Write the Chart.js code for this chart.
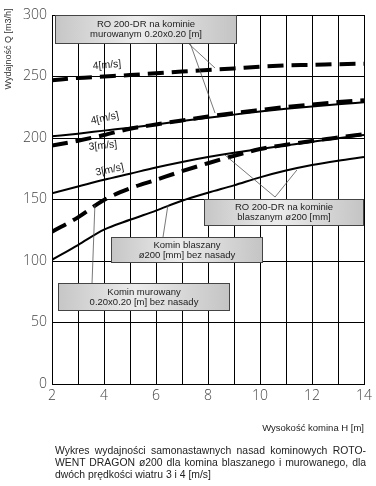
<!DOCTYPE html>
<html><head><meta charset="utf-8">
<script src="https://cdn.jsdelivr.net/npm/chart.js@4/dist/chart.umd.min.js"></script>
<style>
body{margin:0;background:#fff;}
#wrap{position:relative;width:376px;height:486px;overflow:hidden;}
#c{position:absolute;left:0;top:0;}
#ytitle{position:absolute;left:-33px;top:43px;width:82px;text-align:center;font:9px "Liberation Sans",Arial,sans-serif;color:#333;line-height:12px;transform:rotate(-90deg);white-space:nowrap;}
#xtitle{position:absolute;right:12px;top:422px;font:9.5px "Liberation Sans",Arial,sans-serif;color:#222;white-space:nowrap;}
#caption{position:absolute;left:55px;top:445px;width:311px;font:10.4px "Liberation Sans",Arial,sans-serif;color:#222;line-height:12px;}
#caption div{white-space:nowrap;}
#caption span{display:inline-block;}
</style></head><body>
<div id="wrap">
<canvas id="c" width="376" height="486"></canvas>
<div id="ytitle">Wydajność Q [m3/h]</div>
<div id="xtitle">Wysokość komina H [m]</div>
<div id="caption">
<div class="j"><span>Wykres wydajności samonastawnych nasad kominowych ROTO-</span></div>
<div class="j"><span>WENT DRAGON ø200 dla komina blaszanego i murowanego, dla</span></div>
<div><span>dwóch prędkości wiatru 3 i 4 [m/s]</span></div>
</div>
</div>
<script>
// Heights H [m]
const heights = [2,3,4,5,6,7,8,9,10,11,12,13,14];
// Series values Q [m3/h]
const dashTop4 = [247,248.8,250,251.2,252.6,254,255.3,256.6,258,259,259.4,260,260.4];
const solid4   = [201.4,203.5,206,208.4,211,213.8,216.5,219,221.5,223.7,225.7,227.5,229];
const dash4    = [193.8,197.8,202.4,207.5,211,214.3,217.5,220.3,222.8,225.2,227.3,229.2,230.7];
const solid3   = [155,160.5,166,171,176,180.5,184.5,188,191,194,197,199.8,202.4];
const dash3    = [123.8,135.5,149.6,159,166,173,179.5,185.5,191,194.5,197.5,200.5,203];
const solidBase= [101,113,125.5,133.5,141,149,155.5,161.5,168,173.5,178,181.5,184.5];
// Tick labels
const xTickLabels = ['2','4','6','8','10','12','14'];
const yTickLabels = ['0','50','100','150','200','250','300'];

// justify caption lines to the full width
document.querySelectorAll('#caption .j').forEach(d=>{
  const sp = d.querySelector('span');
  const w = sp.getBoundingClientRect().width;
  const n = (sp.textContent.match(/ /g)||[]).length;
  if(n>0){ sp.style.wordSpacing = ((311 - w)/n) + 'px'; }
});

const pts = arr => arr.map((v,i)=>({x:heights[i], y:v}));
const solidStyle = {borderColor:'#000', borderWidth:2, pointRadius:0, fill:false, cubicInterpolationMode:'monotone'};
const dashStyle  = {borderColor:'#000', borderWidth:4, borderDash:[16,8], pointRadius:0, fill:false, cubicInterpolationMode:'monotone'};

const boxes = [
  {x0:2.115,x1:9.08,y0:300,y1:277.2, lines:['RO 200-DR na kominie','murowanym 0.20x0.20 [m]']},
  {x0:7.85,x1:13.96,y0:150.4,y1:129.3, lines:['RO 200-DR na kominie','blaszanym ø200 [mm]']},
  {x0:4.27,x1:10.08,y0:119.5,y1:99.2, lines:['Komin blaszany','ø200 [mm] bez nasady']},
  {x0:2.23,x1:8.81,y0:82.1,y1:60.2, lines:['Komin murowany','0.20x0.20 [m] bez nasady']}
];
const leaders = [
  [7.23,277.2,8.27,256.9],
  [7.31,277.2,8.27,220.3],
  [10.58,152,8.65,186.2],
  [10.58,152,11.42,174],
  [6.27,119.5,6.46,145.5],
  [3.54,82.1,3.65,145.5]
];
const lineLabels = [
  {text:'4[m/s]', x:4.115, y:259.3, rot:-5},
  {text:'4[m/s]', x:4.03, y:216, rot:-12},
  {text:'3[m/s]', x:3.96, y:193.7, rot:-6},
  {text:'3[m/s]', x:4.22, y:174, rot:-12}
];

const overlay = {
  id:'overlay',
  afterDatasetsDraw(chart){
    const ctx = chart.ctx, xs = chart.scales.x, ys = chart.scales.y;
    ctx.save();
    ctx.strokeStyle = '#555'; ctx.lineWidth = 0.8;
    leaders.forEach(l=>{
      ctx.beginPath();
      ctx.moveTo(xs.getPixelForValue(l[0]), ys.getPixelForValue(l[1]));
      ctx.lineTo(xs.getPixelForValue(l[2]), ys.getPixelForValue(l[3]));
      ctx.stroke();
    });
    boxes.forEach(b=>{
      const x0 = Math.round(xs.getPixelForValue(b.x0))+0.5, x1 = Math.round(xs.getPixelForValue(b.x1))+0.5;
      const y0 = Math.round(ys.getPixelForValue(b.y0))+0.5, y1 = Math.round(ys.getPixelForValue(b.y1))+0.5;
      const g = ctx.createLinearGradient(x0,0,x1,0);
      g.addColorStop(0,'#c6c6c6'); g.addColorStop(0.45,'#ececec'); g.addColorStop(1,'#c4c4c4');
      ctx.fillStyle = g;
      ctx.fillRect(x0,y0,x1-x0,y1-y0);
      ctx.strokeStyle = '#444'; ctx.lineWidth = 1;
      ctx.strokeRect(x0,y0,x1-x0,y1-y0);
      ctx.fillStyle = '#222';
      ctx.font = '9.5px "Liberation Sans", Arial, sans-serif';
      ctx.textAlign = 'center'; ctx.textBaseline = 'middle';
      const cx = (x0+x1)/2, cy = (y0+y1)/2;
      ctx.fillText(b.lines[0], cx, cy-5);
      ctx.fillText(b.lines[1], cx, cy+5);
    });
    ctx.font = '10.5px "Liberation Sans", Arial, sans-serif';
    ctx.fillStyle = '#222'; ctx.textAlign='center'; ctx.textBaseline='middle';
    lineLabels.forEach(t=>{
      ctx.save();
      ctx.translate(xs.getPixelForValue(t.x), ys.getPixelForValue(t.y));
      ctx.rotate(t.rot*Math.PI/180);
      ctx.fillText(t.text,0,0);
      ctx.restore();
    });
    ctx.restore();
  }
};

new Chart(document.getElementById('c'), {
  type:'line',
  data:{datasets:[
    Object.assign({label:'dashTop4', data:pts(dashTop4)}, dashStyle),
    Object.assign({label:'solid4', data:pts(solid4)}, solidStyle),
    Object.assign({label:'dash4', data:pts(dash4)}, dashStyle),
    Object.assign({label:'solid3', data:pts(solid3)}, solidStyle),
    Object.assign({label:'dash3', data:pts(dash3)}, dashStyle),
    Object.assign({label:'solidBase', data:pts(solidBase)}, solidStyle)
  ]},
  options:{
    responsive:false, animation:false,
    layout:{padding:{top:15,right:12,left:0,bottom:0}},
    plugins:{legend:{display:false}, tooltip:{enabled:false}},
    scales:{
      x:{type:'linear', min:2, max:14,
        grid:{color:'#000', lineWidth:1, drawTicks:false},
        border:{color:'#000', width:1},
        ticks:{stepSize:1, autoSkip:false, padding:4, color:'#444',
          font:{family:'"Open Sans", sans-serif', size:14, weight:'300'},
          callback:(v)=>{const s=String(v); return xTickLabels.includes(s)?s:'';}},
        afterFit:(s)=>{s.height=102;}
      },
      y:{min:0, max:300,
        grid:{color:'#000', lineWidth:1, drawTicks:false},
        border:{color:'#000', width:1},
        ticks:{stepSize:50, padding:5, color:'#444',
          font:{family:'"Open Sans", sans-serif', size:14, weight:'300'},
          callback:(v)=>{const s=String(v); return yTickLabels.includes(s)?s:'';}},
        afterFit:(s)=>{s.width=52;}
      }
    }
  },
  plugins:[overlay]
});
</script>
</body></html>
